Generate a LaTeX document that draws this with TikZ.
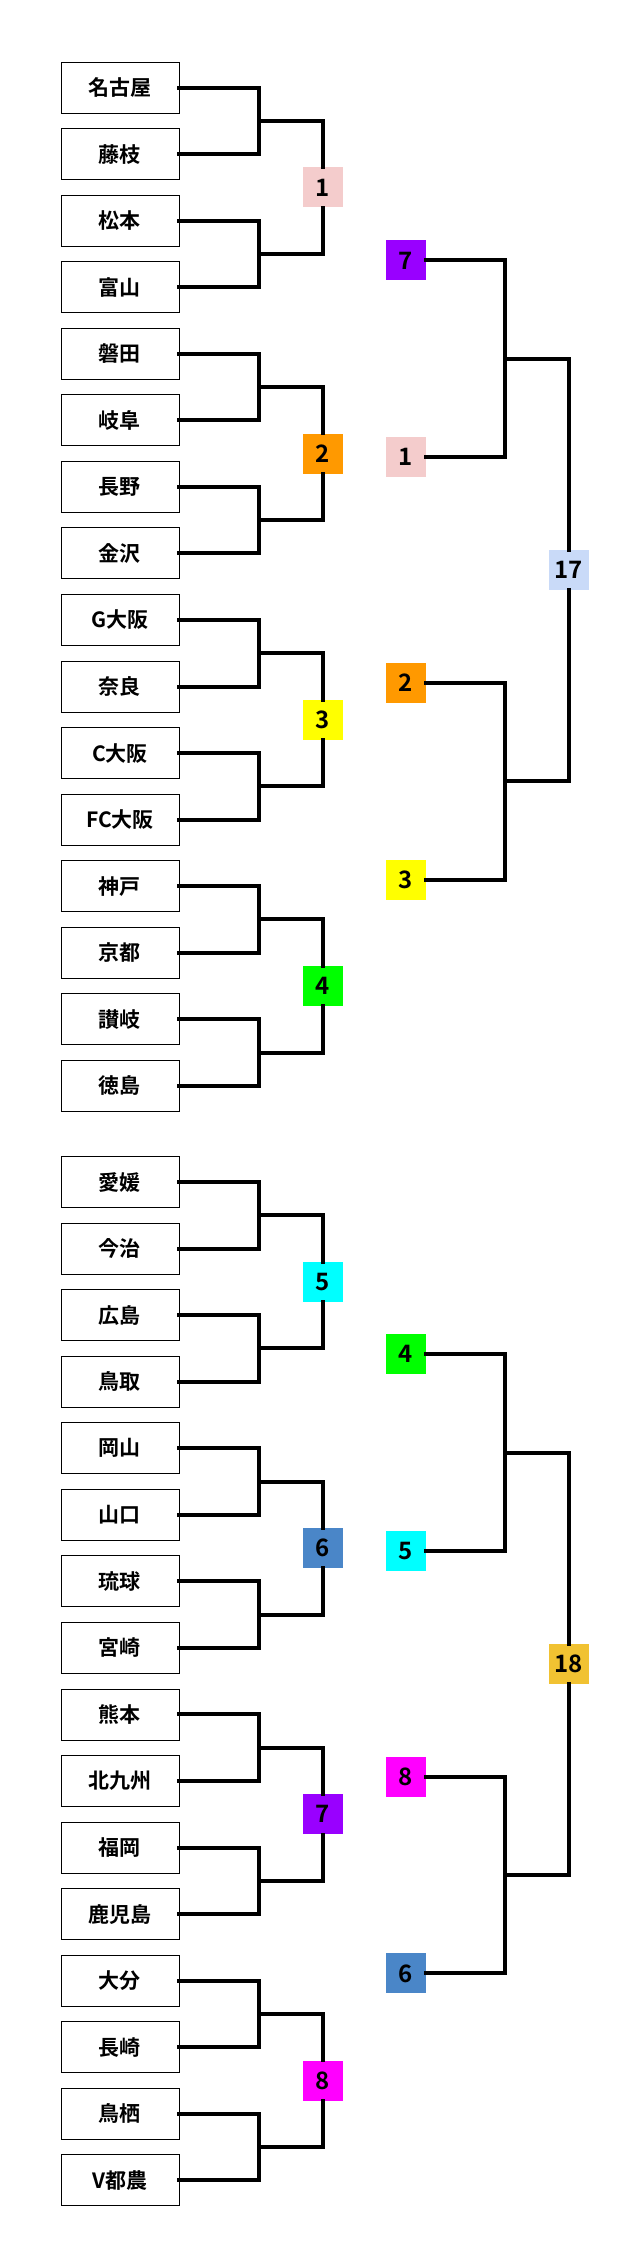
\documentclass[tikz,border=0pt]{standalone}
\usepackage{fontspec}
\usetikzlibrary{calc}
\setmainfont{Noto Sans CJK JP}[BoldFont={* Bold}]
\begin{document}
\begin{tikzpicture}[x=1.4545pt,y=-1.4468pt,
  team/.style={draw,line width=0.9pt,minimum width=118pt,minimum height=51pt,inner sep=0pt,font=\fontsize{21}{24}\selectfont\bfseries},
  lbl/.style={minimum width=40pt,minimum height=40pt,inner sep=0pt,font=\fontsize{24}{26}\selectfont\bfseries},
  ln/.style={line width=4pt,line cap=rect}]
\definecolor{c1}{HTML}{F4CCCC}\definecolor{c2}{HTML}{FF9900}\definecolor{c3}{HTML}{FFFF00}
\definecolor{c4}{HTML}{00FF00}\definecolor{c5}{HTML}{00FFFF}\definecolor{c6}{HTML}{4A86C8}
\definecolor{c7}{HTML}{9900FF}\definecolor{c8}{HTML}{FF00FF}\definecolor{c17}{HTML}{C9DAF8}
\definecolor{c18}{HTML}{F1C232}
\useasboundingbox (0,0) rectangle (440,1560);
\foreach \n [count=\i] in {名古屋,藤枝,松本,富山,磐田,岐阜,長野,金沢,G大阪,奈良,C大阪,FC大阪,神戸,京都,讃岐,徳島,愛媛,今治,広島,鳥取,岡山,山口,琉球,宮崎,熊本,北九州,福岡,鹿児島,大分,長崎,鳥栖,V都農}{
  \pgfmathsetmacro{\yy}{\i<=16 ? 60.5+46*(\i-1) : 817+46*(\i-17)}
  \node[team] (t\i) at (82.5,\yy) {\n};
}
\foreach \p in {1,...,16}{
  \pgfmathtruncatemacro{\a}{2*\p-1}\pgfmathtruncatemacro{\b}{2*\p}
  \coordinate (pj\p) at ($(t\a)!0.5!(t\b)$);
}
\foreach \p in {1,...,16}{
  \pgfmathtruncatemacro{\a}{2*\p-1}\pgfmathtruncatemacro{\b}{2*\p}
  \coordinate (pk\p) at (178,0 |- pj\p);
  \draw[ln] (t\a.east) -- (t\a.east -| pk\p) -- (t\b.east -| pk\p) -- (t\b.east);
}
\foreach \q in {1,...,8}{
  \pgfmathtruncatemacro{\a}{2*\q-1}\pgfmathtruncatemacro{\b}{2*\q}
  \path (pk\a) -- (pk\b) coordinate[pos=0.5] (qm\q);
  \node[lbl,fill=c\q] (L\q) at (222,0 |- qm\q) {\q};
  \draw[ln] (pk\a) -| (L\q.north);
  \draw[ln] (pk\b) -| (L\q.south);
}
\node[lbl,fill=c7] (S1) at (279,180) {7};
\node[lbl,fill=c1] (S2) at (279,316) {1};
\node[lbl,fill=c2] (S3) at (279,472) {2};
\node[lbl,fill=c3] (S4) at (279,608) {3};
\node[lbl,fill=c4] (S5) at (279,936) {4};
\node[lbl,fill=c5] (S6) at (279,1072) {5};
\node[lbl,fill=c8] (S7) at (279,1228) {8};
\node[lbl,fill=c6] (S8) at (279,1364) {6};
\node[lbl,fill=c17] (F1) at (391,394) {17};
\node[lbl,fill=c18] (F2) at (391,1150) {18};
\coordinate (m1) at (347,248);
\coordinate (m2) at (347,540);
\coordinate (m3) at (347,1004);
\coordinate (m4) at (347,1296);
\draw[ln] (S1.east) -| (m1) |- (S2.east);
\draw[ln] (S3.east) -| (m2) |- (S4.east);
\draw[ln] (S5.east) -| (m3) |- (S6.east);
\draw[ln] (S7.east) -| (m4) |- (S8.east);
\draw[ln] (m1) -| (F1.north);
\draw[ln] (m2) -| (F1.south);
\draw[ln] (m3) -| (F2.north);
\draw[ln] (m4) -| (F2.south);
\end{tikzpicture}
\end{document}
